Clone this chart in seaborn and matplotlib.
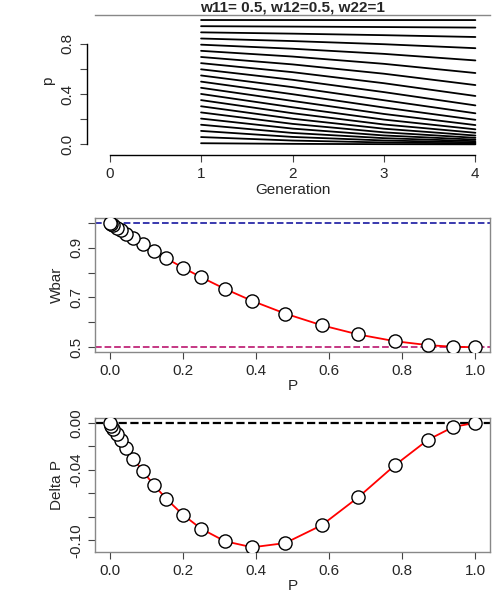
import matplotlib
matplotlib.use("Agg")
import matplotlib.pyplot as plt
import numpy as np
import pandas as pd
import seaborn as sns

sns.set_style("ticks")
plt.rcParams["font.family"] = ["Liberation Sans", "DejaVu Sans"]

TITLE = "w11= 0.5, w12=0.5, w22=1"

generations = [1, 2, 3, 4]
# allele frequency trajectories, one row per starting value
trajectories = [
    [0.01, 0.00505, 0.00254, 0.00127],
    [0.059, 0.0313, 0.01615, 0.00821],
    [0.108, 0.0601, 0.0319, 0.01646],
    [0.157, 0.0918, 0.0503, 0.0264],
    [0.206, 0.1264, 0.0717, 0.0385],
    [0.255, 0.164, 0.0965, 0.0531],
    [0.304, 0.2048, 0.1255, 0.0711],
    [0.353, 0.2488, 0.1591, 0.0932],
    [0.402, 0.2961, 0.198, 0.1205],
    [0.451, 0.3466, 0.2429, 0.1544],
    [0.5, 0.4, 0.2941, 0.1963],
    [0.549, 0.4562, 0.3521, 0.248],
    [0.598, 0.5148, 0.4167, 0.3109],
    [0.647, 0.5753, 0.4874, 0.3859],
    [0.696, 0.6371, 0.563, 0.4727],
    [0.745, 0.6995, 0.6416, 0.5686],
    [0.794, 0.7617, 0.7208, 0.6686],
    [0.843, 0.8227, 0.7976, 0.766],
    [0.892, 0.8817, 0.8695, 0.855],
    [0.941, 0.9377, 0.9341, 0.93],
    [0.99, 0.9899, 0.9898, 0.9897],
]

p_vals = [1.0, 0.94, 0.87, 0.78, 0.68, 0.58, 0.48, 0.39, 0.315, 0.25, 0.2,
          0.155, 0.12, 0.09, 0.065, 0.045, 0.03, 0.02, 0.01, 0.005, 0.0]
wbar_vals = [0.5, 0.5018, 0.5085, 0.5242, 0.5512, 0.5882, 0.6352, 0.686,
             0.7346, 0.7813, 0.82, 0.857, 0.8872, 0.914, 0.9371, 0.956,
             0.9705, 0.9802, 0.99, 0.995, 1.0]
dp_vals = [0.0, -0.00337, -0.01446, -0.036, -0.0632, -0.087, -0.1022,
           -0.1058, -0.1006, -0.09, -0.078, -0.0646, -0.0524, -0.0408,
           -0.0303, -0.0215, -0.0145, -0.0098, -0.00495, -0.0025, 0.0]

rows = []
for i, traj in enumerate(trajectories):
    for g, p in zip(generations, traj):
        rows.append({"line": i, "gen": g, "p": p})
traj_df = pd.DataFrame(rows)
pts_df = pd.DataFrame({"P": p_vals, "Wbar": wbar_vals, "dP": dp_vals})

fig = plt.figure(figsize=(5, 6), dpi=100)
ax1 = fig.add_axes([0.19, 0.755, 0.79, 0.22])
ax2 = fig.add_axes([0.19, 0.413, 0.79, 0.224])
ax3 = fig.add_axes([0.19, 0.08, 0.79, 0.224])


def r_style(ax):
    for s in ax.spines.values():
        s.set_color("#888")
        s.set_linewidth(1)
    ax.tick_params(labelsize=11, length=5, color="#444")
    for lab in ax.get_yticklabels():
        lab.set_rotation(90)
        lab.set_va("center")


# top panel
sns.lineplot(data=traj_df, x="gen", y="p", units="line", estimator=None,
             color="black", lw=1.3, ax=ax1)
ax1.set_xlim(-0.16, 4.16)
ax1.set_ylim(-0.02, 1.03)
ax1.set_xticks([0, 1, 2, 3, 4])
ax1.set_yticks([0.0, 0.2, 0.4, 0.6, 0.8])
ax1.set_yticklabels(["0.0", "", "0.4", "", "0.8"])
ax1.set_xlabel("Generation", fontsize=11, labelpad=1)
ax1.set_ylabel("p", fontsize=11)
ax1.set_title(TITLE, fontsize=11, fontweight="bold", pad=1)
ax1.spines["right"].set_visible(False)
ax1.spines["left"].set_bounds(0, 0.8)
ax1.spines["bottom"].set_bounds(0, 4)
ax1.spines["left"].set_position(("outward", 6))
ax1.spines["bottom"].set_position(("outward", 6))
r_style(ax1)
ax1.spines["left"].set_color("black")
ax1.spines["bottom"].set_color("black")

# middle panel
ax2.axhline(1.0, color="#2a2aa8", ls="--", lw=1.3)
ax2.axhline(0.5, color="#c0287a", ls="--", lw=1.3)
sns.lineplot(data=pts_df, x="P", y="Wbar", color="red", lw=1.3, ax=ax2,
             sort=True)
sns.scatterplot(data=pts_df, x="P", y="Wbar", s=90, facecolor="white",
                edgecolor="black", linewidth=1, ax=ax2, zorder=5)
ax2.set_xlim(-0.04, 1.04)
ax2.set_ylim(0.48, 1.02)
ax2.set_xticks([0, 0.2, 0.4, 0.6, 0.8, 1.0])
ax2.set_xticklabels(["0.0", "0.2", "0.4", "0.6", "0.8", "1.0"])
ax2.set_yticks([0.5, 0.6, 0.7, 0.8, 0.9, 1.0])
ax2.set_yticklabels(["0.5", "", "0.7", "", "0.9", ""])
ax2.set_xlabel("P", fontsize=11, labelpad=1)
ax2.set_ylabel("Wbar", fontsize=11)
r_style(ax2)

# bottom panel
ax3.axhline(0.0, color="black", ls="--", lw=1.6)
sns.lineplot(data=pts_df, x="P", y="dP", color="red", lw=1.3, ax=ax3)
sns.scatterplot(data=pts_df, x="P", y="dP", s=90, facecolor="white",
                edgecolor="black", linewidth=1, ax=ax3, zorder=5)
ax3.set_xlim(-0.04, 1.04)
ax3.set_ylim(-0.1098, 0.0045)
ax3.set_xticks([0, 0.2, 0.4, 0.6, 0.8, 1.0])
ax3.set_xticklabels(["0.0", "0.2", "0.4", "0.6", "0.8", "1.0"])
ax3.set_yticks([0.0, -0.02, -0.04, -0.06, -0.08, -0.10])
ax3.set_yticklabels(["0.00", "", "-0.04", "", "", "-0.10"])
ax3.set_xlabel("P", fontsize=11, labelpad=1)
ax3.set_ylabel("Delta P", fontsize=11)
r_style(ax3)

fig.savefig("out.png", dpi=100)
